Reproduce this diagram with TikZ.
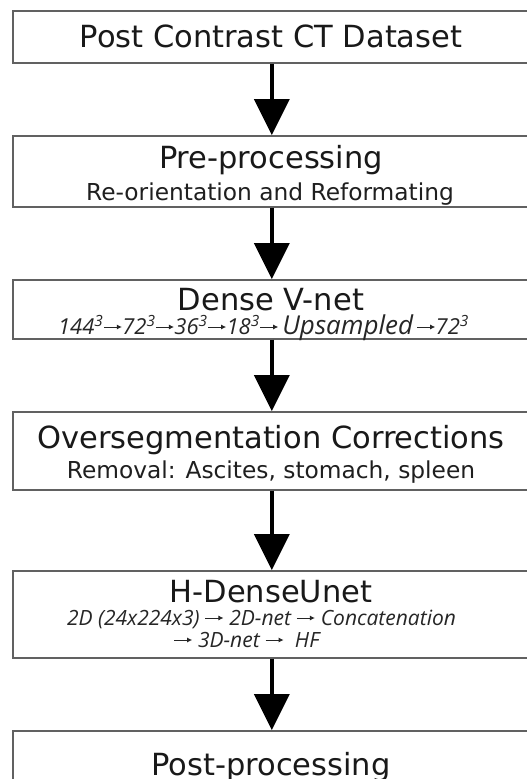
\documentclass[tikz,border=0pt]{standalone}
\usepackage{fontspec}
\usetikzlibrary{arrows.meta}
\setmainfont{DejaVu Sans}
\newfontfamily\stepit{Open Sans}

% short arrow used inside the italic pipeline lines
\newcommand\pipearrow[1][18pt]{\tikz[x=1pt,y=1pt,baseline=-7pt]\draw[line width=0.9pt,-{Latex[length=5pt,width=5pt]}] (0,0) -- (#1,0);}

\tikzset{
  stagebox/.style={draw=black!62, line width=1.6pt, fill=white, rectangle,
    minimum width=518pt, anchor=north west, inner sep=0pt},
  title/.style={anchor=base, inner sep=0pt, font=\fontsize{30.5pt}{34pt}\selectfont, text=black!90},
  subtitle/.style={anchor=base, inner sep=0pt, font=\fontsize{23.3pt}{26pt}\selectfont, text=black!88},
  pipeline/.style={anchor=base, inner sep=0pt, font=\stepit\itshape\fontsize{21pt}{24pt}\selectfont, text=black!85},
  flow/.style={line width=3.5pt, -{Triangle[width=35pt,length=36pt]}}
}

\begin{document}
\begin{tikzpicture}[x=1pt,y=-1pt]
\clip (0,0) rectangle (527,779);
\fill[white] (0,0) rectangle (527,779);

% stage boxes
\node[stagebox, minimum height=52pt] (b1) at (12,10) {};
\node[stagebox, minimum height=71pt] (b2) at (12,135) {};
\node[stagebox, minimum height=59pt] (b3) at (12,279) {};
\node[stagebox, minimum height=78pt] (b4) at (12,411) {};
\node[stagebox, minimum height=87pt] (b5) at (12,570) {};
\node[stagebox, minimum height=70pt] (b6) at (12,730) {};

% box texts
\node[title] (t1) at (271,47) {Post Contrast CT Dataset};

\node[title] (t2) at (271,168) {Pre-processing};
\node[subtitle] (s2) at (270,200) {Re-orientation and Reformating};

\node[title] (t3) at (271,310) {Dense V-net};
\node[pipeline, font=\stepit\itshape\fontsize{22pt}{24pt}\selectfont] (s3) at (263.5,334) {144\textsuperscript{3}\pipearrow[18pt]72\textsuperscript{3}\pipearrow[18pt]36\textsuperscript{3}\pipearrow[18pt]18\textsuperscript{3}\pipearrow[18pt]\,{\fontsize{26pt}{28pt}\selectfont Upsampled}\,\pipearrow[18pt]72\textsuperscript{3}};

\node[title] (t4) at (271,448) {Oversegmentation Corrections};
\node[subtitle] (s4) at (271,478) {Removal: Ascites, stomach, spleen};

\node[title] (t5) at (271,602) {H-DenseUnet};
\node[pipeline] (s5a) at (261.5,625) {2D (24x224x3) \pipearrow\ 2D-net \pipearrow\ Concatenation};
\node[pipeline] (s5b) at (246.5,647) {\pipearrow\ 3D-net \pipearrow\ \ HF};

\node[title] (t6) at (271,775) {Post-processing};

% flow arrows
\draw[flow] (b1.south) -- (b2.north);
\draw[flow] (b2.south) -- (b3.north);
\draw[flow] (b3.south) -- (b4.north);
\draw[flow] (b4.south) -- (b5.north);
\draw[flow] (b5.south) -- (b6.north);
\end{tikzpicture}
\end{document}
